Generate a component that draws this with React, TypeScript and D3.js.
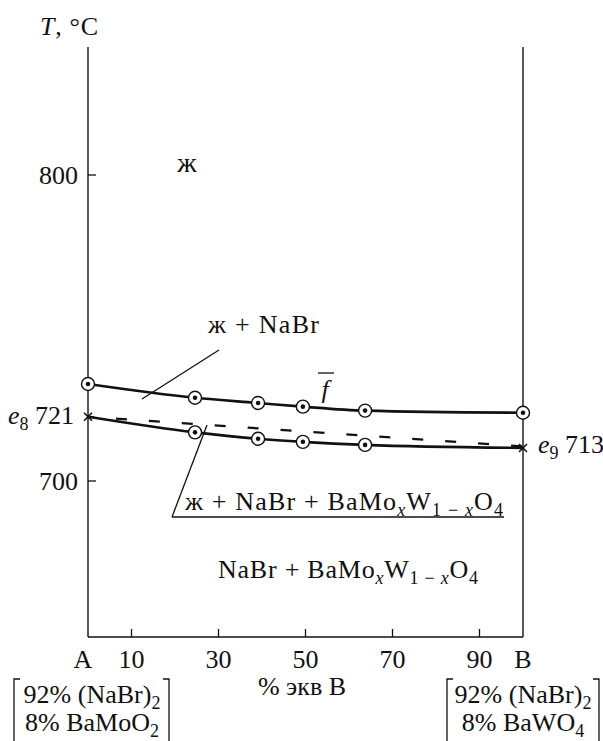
import React from "react";
import * as d3 from "d3";

// ---- data ----
const liquidusX = [0, 24.6, 39.1, 49.4, 63.7, 100];
const liquidusT = [731.7, 727.2, 725.5, 724.3, 723.0, 722.3];
const lowerX = [0, 24.6, 39.1, 49.4, 63.7, 100];
const lowerT = [721, 715.9, 713.8, 712.8, 711.8, 710.8];
const lowerCircleIdx = [1, 2, 3, 4];
const dashX = [0, 100];
const dashT = [721, 711.3];
const xTicks = [10, 30, 50, 70, 90];
const yTicks = [700, 800];

const W = 603;
const H = 741;
const FONT = "Liberation Serif";
const FS = 26;
const SUB = 18;

export default function App() {
  const x = d3.scaleLinear().domain([0, 100]).range([88, 523]);
  const y = d3.scaleLinear().domain([700, 800]).range([481, 175]);
  const yTop = 47;
  const yBottom = 637;

  const line = d3
    .line<[number, number]>()
    .x((d) => x(d[0]))
    .y((d) => y(d[1]))
    .curve(d3.curveMonotoneX);

  const upper = liquidusX.map((v, i) => [v, liquidusT[i]] as [number, number]);
  const lower = lowerX.map((v, i) => [v, lowerT[i]] as [number, number]);
  const dash = dashX.map((v, i) => [v, dashT[i]] as [number, number]);
  const straight = d3.line<[number, number]>().x((d) => x(d[0])).y((d) => y(d[1]));

  const circle = (cx: number, cy: number, k: string) => (
    <g key={k}>
      <circle cx={cx} cy={cy} r={6.5} fill="#fff" stroke="#111" strokeWidth={1.4} />
      <circle cx={cx} cy={cy} r={2.3} fill="#111" />
    </g>
  );
  const cross = (cx: number, cy: number, k: string) => (
    <g key={k} stroke="#111" strokeWidth={1.6}>
      <line x1={cx - 4} y1={cy - 4} x2={cx + 4} y2={cy + 4} />
      <line x1={cx - 4} y1={cy + 4} x2={cx + 4} y2={cy - 4} />
    </g>
  );

  const formula = () => [
    <tspan key="a">BaMo</tspan>,
    <tspan key="b" fontSize={SUB} fontStyle="italic" dy={6}>x</tspan>,
    <tspan key="c" dy={-6}>W</tspan>,
    <tspan key="d" fontSize={SUB} dy={6}>1 − </tspan>,
    <tspan key="e" fontSize={SUB} fontStyle="italic">x</tspan>,
    <tspan key="f" dy={-6}>O</tspan>,
    <tspan key="g" fontSize={SUB} dy={6}>4</tspan>,
  ];

  const ts = { fontFamily: FONT, fontSize: FS, fill: "#111" } as React.CSSProperties;

  return (
    <svg
      width={W}
      height={H}
      style={{ position: "absolute", left: 0, top: 0, background: "#fff" }}
    >
      <g>
        {/* axes frame */}
        <line x1={x(0)} y1={yTop} x2={x(0)} y2={yBottom} stroke="#111" strokeWidth={1.4} />
        <line x1={x(100)} y1={yTop} x2={x(100)} y2={yBottom} stroke="#111" strokeWidth={1.4} />
        <line x1={x(0)} y1={yBottom} x2={x(100)} y2={yBottom} stroke="#111" strokeWidth={1.4} />
        {xTicks.map((t) => (
          <g key={"xt" + t}>
            <line x1={x(t)} x2={x(t)} y1={yBottom} y2={yBottom - 8} stroke="#111" strokeWidth={1.3} />
            <text x={x(t)} y={668} textAnchor="middle" style={ts}>{t}</text>
          </g>
        ))}
        <text x={x(0) - 5} y={668} textAnchor="middle" style={ts}>A</text>
        <text x={x(100)} y={668} textAnchor="middle" style={ts}>B</text>
        <text x={302} y={695} textAnchor="middle" style={ts}>% экв B</text>
        {yTicks.map((t) => (
          <g key={"yt" + t}>
            <line x1={x(0)} x2={x(0) + 8} y1={y(t)} y2={y(t)} stroke="#111" strokeWidth={1.3} />
            <text x={78} y={y(t) + 9} textAnchor="end" style={ts}>{t}</text>
          </g>
        ))}
        <text x={40} y={35} style={ts} textLength={58} lengthAdjust="spacing">
          <tspan fontStyle="italic">T</tspan>, °C
        </text>

        {/* curves */}
        <path d={line(upper) || ""} fill="none" stroke="#111" strokeWidth={2.6} />
        <path d={line(lower) || ""} fill="none" stroke="#111" strokeWidth={2.6} />
        <path
          d={straight(dash) || ""}
          fill="none"
          stroke="#111"
          strokeWidth={2.2}
          strokeDasharray="11 22"
          strokeDashoffset={-28}
        />
        {upper.map((d, i) => circle(x(d[0]), y(d[1]), "u" + i))}
        {lowerCircleIdx.map((i) => circle(x(lower[i][0]), y(lower[i][1]), "l" + i))}
        {cross(x(lower[0][0]), y(lower[0][1]), "c0")}
        {cross(x(lower[lower.length - 1][0]), y(lower[lower.length - 1][1]), "c1")}

        {/* eutectic labels */}
        <text x={74} y={y(721) + 7} textAnchor="end" style={ts}>
          <tspan fontStyle="italic">e</tspan>
          <tspan fontSize={SUB} dy={6}>8</tspan>
          <tspan dy={-6}> 721</tspan>
        </text>
        <text x={538} y={453} style={ts}>
          <tspan fontStyle="italic">e</tspan>
          <tspan fontSize={SUB} dy={6}>9</tspan>
          <tspan dy={-6}> 713</tspan>
        </text>

        {/* f label */}
        <text x={325} y={398} textAnchor="middle" fontStyle="italic" style={ts}>f</text>
        <line x1={318} x2={334} y1={373} y2={373} stroke="#111" strokeWidth={1.3} />

        {/* region labels */}
        <text x={187} y={172} textAnchor="middle" style={{ ...ts, fontSize: 28 }}>ж</text>
        <text x={208} y={333} style={ts} textLength={111} lengthAdjust="spacing">ж + NaBr</text>
        <line x1={219} y1={350} x2={142} y2={399} stroke="#111" strokeWidth={1.3} />

        <line x1={207} y1={425} x2={172} y2={517} stroke="#111" strokeWidth={1.3} />
        <line x1={172} y1={517} x2={504} y2={517} stroke="#111" strokeWidth={1.3} />
        <text x={185} y={510} style={ts} textLength={318} lengthAdjust="spacing">
          <tspan>ж + NaBr + </tspan>
          {formula()}
        </text>
        <text x={218} y={578} style={ts} textLength={260} lengthAdjust="spacing">
          <tspan>NaBr + </tspan>
          {formula()}
        </text>

        {/* composition brackets */}
        <path d="M20,679 H14 V741 M163,679 H169 V741" fill="none" stroke="#111" strokeWidth={1.3} />
        <text x={92} y={703} textAnchor="middle" style={ts}>
          92% (NaBr)<tspan fontSize={SUB} dy={6}>2</tspan>
        </text>
        <text x={92} y={731} textAnchor="middle" style={ts}>
          8% BaMoO<tspan fontSize={SUB} dy={6}>2</tspan>
        </text>
        <path d="M453,679 H447 V741 M593,679 H599 V741" fill="none" stroke="#111" strokeWidth={1.3} />
        <text x={523} y={703} textAnchor="middle" style={ts}>
          92% (NaBr)<tspan fontSize={SUB} dy={6}>2</tspan>
        </text>
        <text x={523} y={731} textAnchor="middle" style={ts}>
          8% BaWO<tspan fontSize={SUB} dy={6}>4</tspan>
        </text>
      </g>
    </svg>
  );
}
